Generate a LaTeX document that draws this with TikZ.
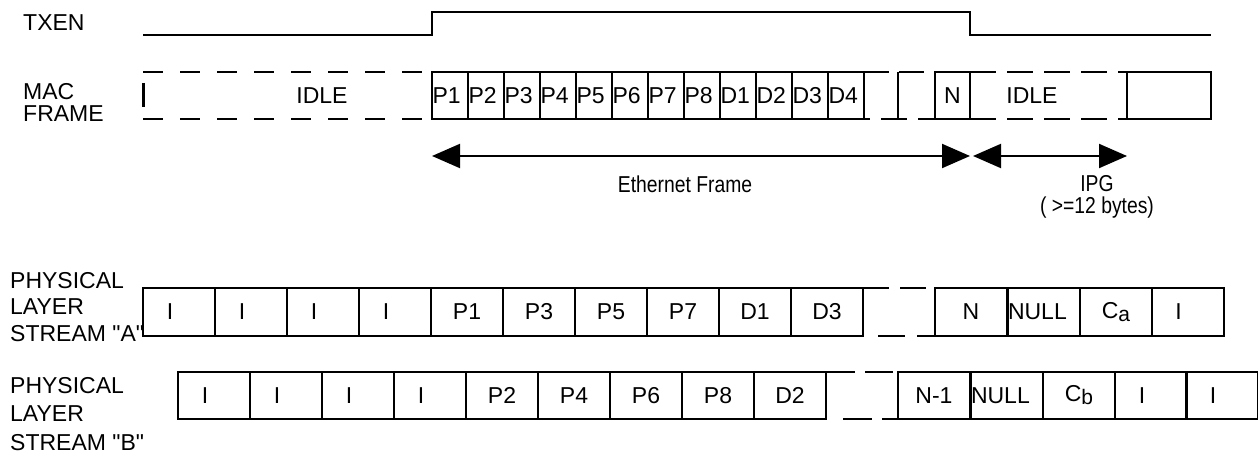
\documentclass[tikz,border=0pt]{standalone}
\usepackage{fontspec}
\setmainfont{Liberation Sans}
\newfontfamily\narrowsans{Liberation Sans}[FakeStretch=0.84]
\usetikzlibrary{arrows.meta}

\begin{document}
\begin{tikzpicture}[x=1pt,y=-1pt,
  txt/.style={font=\fontsize{23}{27}\selectfont, inner sep=0pt},
  lbl/.style={txt, anchor=base west},
  note/.style={font=\narrowsans\fontsize{23}{27}\selectfont, inner sep=0pt},
  wire/.style={line width=2pt},
  dash20/.style={line width=2.6pt, dash pattern=on 20pt off 17pt},
  dash26/.style={line width=2.6pt, dash pattern=on 26pt off 11pt},
  byte/.style={txt, draw, line width=2.4pt, minimum height=47pt,
    text width=35pt, align=left, inner xsep=0.5pt},
  slot/.style={txt, draw, line width=2pt, minimum width=72pt},
  slotA/.style={slot, minimum height=48pt},
  slotB/.style={slot, minimum height=47pt},
  flush/.style={text width=71pt, align=left, inner xsep=0.5pt},
  idleI/.style={label={[txt, xshift=-9pt]center:I}},
  span/.style={line width=2pt, {Triangle[length=28pt,width=24pt]}-{Triangle[length=28pt,width=24pt]}}
]
\useasboundingbox (0,0) rectangle (1258,454);

% ---------- TXEN ----------
\node[lbl] (txen) at (23,31) {TXEN};
\draw[wire] (143,35) -- (432,35) -- (432,12) -- (970,12) -- (970,35) -- (1211,35);

% ---------- MAC frame ----------
\node[lbl] (mac) at (23,99.5) {MAC};
\node[lbl] (frame) at (23,121.5) {FRAME};

% idle before the frame
\draw[dash20] (143,72) -- (432,72);
\draw[dash20] (143,119) -- (432,119);
\draw[line width=3pt] (143,83) -- (143,107);
\node[txt] (idle1) at (322,96) {IDLE};

% preamble and data bytes
\foreach \t [count=\k from 0] in {P1,P2,P3,P4,P5,P6,P7,P8,D1,D2,D3,D4}
  \node[byte] (m\k) at (450+36*\k,95.5) {\t};

% elided bytes
\draw[line width=2.6pt, dash pattern=on 25pt off 10pt] (864,72) -- (935,72);
\draw[line width=2.6pt, dash pattern=on 26pt off 11pt, dash phase=20pt] (864,119) -- (935,119);
\draw[line width=2.4pt] (898,72) -- (898,119);
\node[txt, draw, line width=2.4pt, minimum width=35pt, minimum height=47pt] (mN) at (952.5,95.5) {N};

% idle after the frame
\draw[dash26] (970,72) -- (1127,72);
\draw[dash26] (970,119) -- (1127,119);
\node[txt] (idle2) at (1032,96) {IDLE};
\node[draw, line width=2.4pt, minimum width=84pt, minimum height=47pt] (mnext) at (1169,95.5) {};

% ---------- frame / gap extents ----------
\coordinate (efL) at (432,156);
\coordinate (efR) at (970,156);
\coordinate (ipgL) at (973,156);
\coordinate (ipgR) at (1127,156);
\draw[span] (efL) -- (efR);
\draw[span] (ipgL) -- (ipgR);
\node[note] (eth) at (685,184) {Ethernet Frame};
\node[note] (ipg) at (1097,184) {IPG};
\node[note] (ipgmin) at (1097,208) {( >=12 bytes)};

% ---------- stream A ----------
\node[lbl] (pa1) at (10,289) {PHYSICAL};
\node[lbl] (pa2) at (10,315) {LAYER};
\node[lbl] (pa3) at (10,341) {STREAM \textquotedbl A\textquotedbl};

\foreach \k in {0,...,3}
  \node[slotA, idleI] (a\k) at (179+72*\k,312) {};
\foreach \t [count=\k from 4] in {P1,P3,P5,P7,D1,D3}
  \node[slotA] (a\k) at (179+72*\k,312) {\t};
\draw[line width=2.4pt, dash pattern=on 26pt off 11pt] (863,288) -- (935,288);
\draw[line width=2.4pt, dash pattern=on 27pt off 12pt] (878,336) -- (935,336);
\node[slotA] (aN) at (971,312) {N};
\node[slotA, flush] (aNull) at (1043.5,312) {NULL};
\node[slotA] (aCa) at (1116,312) {C\raisebox{-3pt}{\fontsize{21}{21}\selectfont a}};
\node[slotA, idleI] (aI) at (1187.5,312) {};

% ---------- stream B ----------
\node[lbl] (pb1) at (10,393) {PHYSICAL};
\node[lbl] (pb2) at (10,421.5) {LAYER};
\node[lbl] (pb3) at (10,450) {STREAM \textquotedbl B\textquotedbl};

\foreach \k in {0,...,3}
  \node[slotB, idleI] (b\k) at (214+72*\k,395.5) {};
\foreach \t [count=\k from 4] in {P2,P4,P6,P8,D2}
  \node[slotB] (b\k) at (214+72*\k,395.5) {\t};
\draw[line width=2.4pt, dash pattern=on 28pt off 10pt] (827,372) -- (898,372);
\draw[line width=2.4pt, dash pattern=on 29pt off 10pt] (843,419) -- (898,419);
\node[slotB] (bN) at (934,395.5) {N-1};
\node[slotB, flush] (bNull) at (1006.5,395.5) {NULL};
\node[slotB] (bCb) at (1079,395.5) {C\raisebox{-3pt}{\fontsize{21}{21}\selectfont b}};
\node[slotB, idleI] (bI1) at (1151,395.5) {};
\node[slotB, idleI] (bI2) at (1222,395.5) {};
\end{tikzpicture}
\end{document}
